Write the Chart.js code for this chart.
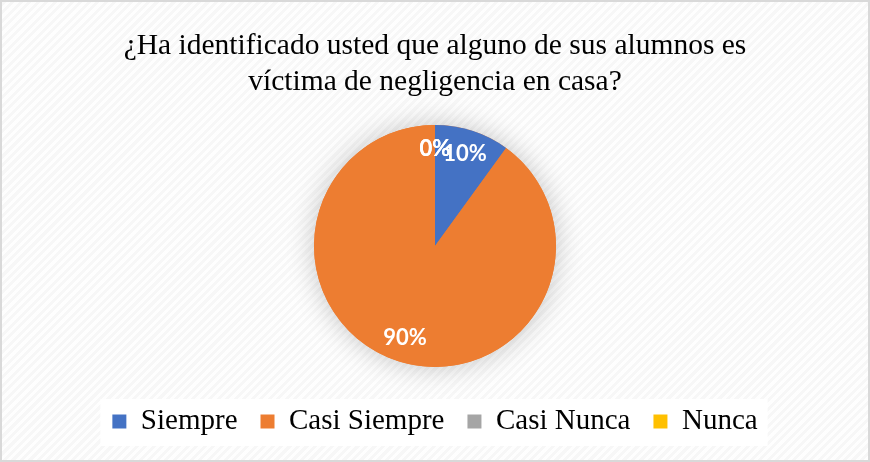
<!DOCTYPE html>
<html>
<head>
<meta charset="utf-8">
<script src="https://cdn.jsdelivr.net/npm/chart.js@4/dist/chart.umd.min.js"></script>
<style>
  html, body { margin: 0; padding: 0; background: #fff; }
  .card {
    position: relative;
    width: 870px;
    height: 462px;
    background-color: #f7f7f7;
    background-image: repeating-linear-gradient(135deg, rgba(255,255,255,0.85) 0 3px, rgba(255,255,255,0) 3px 6px);
  }
  .frame {
    position: absolute;
    inset: 0;
    border: 2px solid #d9d9d9;
    pointer-events: none;
  }
</style>
</head>
<body>
<div class="card">
  <canvas id="chart"></canvas>
  <div class="frame"></div>
</div>
<script>
const titleLines = ["¿Ha identificado usted que alguno de sus alumnos es", "víctima de negligencia en casa?"];
const categories = ["Siempre", "Casi Siempre", "Casi Nunca", "Nunca"];
const percents = [10, 90, 0, 0];
const colors = ["#4472C4", "#ED7D31", "#A5A5A5", "#FFC000"];

// soft shadow under the whole pie + white panel behind the legend
const pieBackdrop = {
  id: "pieBackdrop",
  beforeDatasetsDraw(chart) {
    const ctx = chart.ctx;
    const arc = chart.getDatasetMeta(0).data[0];
    if (!arc) return;
    const { x, y, outerRadius } = arc.getProps(["x", "y", "outerRadius"], true);
    ctx.save();
    ctx.shadowColor = "rgba(0,0,0,0.22)";
    ctx.shadowBlur = 28;
    ctx.fillStyle = "#ED7D31";
    ctx.beginPath();
    ctx.arc(x, y, outerRadius, 0, Math.PI * 2);
    ctx.fill();
    ctx.restore();
  },
  beforeDraw(chart) {
    const lg = chart.legend;
    if (!lg || !lg.legendHitBoxes.length) return;
    const boxes = lg.legendHitBoxes;
    const left = boxes[0].left - 12;
    const right = boxes[boxes.length - 1].left + boxes[boxes.length - 1].width + 10;
    const top = boxes[0].top - 8;
    const bottom = boxes[0].top + boxes[0].height + 10;
    chart.ctx.save();
    chart.ctx.fillStyle = "rgba(255,255,255,0.9)";
    chart.ctx.fillRect(left, top, right - left, bottom - top);
    chart.ctx.restore();
  }
};

// percentage labels inside the slices
const sliceLabels = {
  id: "sliceLabels",
  afterDatasetsDraw(chart) {
    const ctx = chart.ctx;
    const data = chart.data.datasets[0].data;
    const total = data.reduce((a, b) => a + b, 0);
    ctx.save();
    ctx.font = "bold 22px Lato";
    ctx.fillStyle = "#ffffff";
    ctx.textAlign = "center";
    ctx.textBaseline = "middle";
    chart.getDatasetMeta(0).data.forEach((arc, i) => {
      const p = arc.getProps(["x", "y", "startAngle", "endAngle", "outerRadius"], true);
      const mid = (p.startAngle + p.endAngle) / 2;
      const r = p.outerRadius * 0.8;
      const label = Math.round((data[i] / total) * 100) + "%";
      ctx.fillText(label, p.x + Math.cos(mid) * r, p.y + Math.sin(mid) * r);
    });
    ctx.restore();
  }
};

new Chart(document.getElementById("chart"), {
  type: "pie",
  data: {
    labels: categories,
    datasets: [
      {
        data: percents,
        backgroundColor: colors,
        borderWidth: 0,
        radius: 121,
      },
    ],
  },
  options: {
    responsive: true,
    maintainAspectRatio: false,
    animation: false,
    layout: { padding: { bottom: 16 } },
    plugins: {
      title: {
        display: true,
        text: titleLines,
        color: "#000000",
        font: { family: "'Liberation Serif', 'Times New Roman', serif", size: 29.5, weight: "normal", lineHeight: 1.2 },
        padding: { top: 29, bottom: 8 },
      },
      legend: {
        position: "bottom",
        labels: {
          color: "#000000",
          boxWidth: 14,
          boxHeight: 14,
          padding: 23,
          font: { family: "'Liberation Serif', 'Times New Roman', serif", size: 29 },
        },
      },
      tooltip: { enabled: false },
    },
  },
  plugins: [pieBackdrop, sliceLabels],
});
</script>
</body>
</html>
